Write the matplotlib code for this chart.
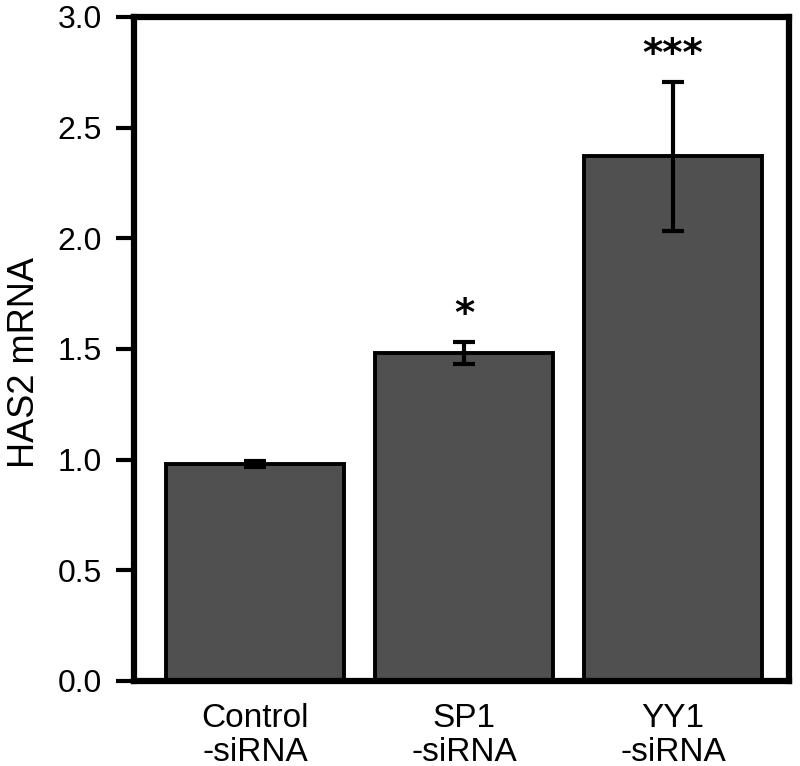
import matplotlib

matplotlib.use("Agg")

import matplotlib.pyplot as plt

groups      = ["Control\n-siRNA", "SP1\n-siRNA", "YY1\n-siRNA"]
means       = [0.98, 1.48, 2.37]
errors      = [0.015, 0.05, 0.335]
stars       = ["", "*", "***"]
y_ticks     = [0.0, 0.5, 1.0, 1.5, 2.0, 2.5, 3.0]

plt.rcParams["font.family"] = ["Liberation Sans", "DejaVu Sans"]

figure = plt.figure(figsize=(8.0, 7.66), dpi=100)
axis   = figure.add_axes([134 / 800, 1 - 681 / 766, (789 - 134) / 800, (681 - 17) / 766])

positions = range(len(groups))
axis.bar(positions, means, width=0.85, color="#505050", edgecolor="black", linewidth=2.8, zorder=2)
axis.errorbar(positions, means, yerr=errors, fmt="none", ecolor="black", elinewidth=3.0,
              capsize=8, capthick=3.0, zorder=3)

for position, mean, error, label in zip(positions, means, errors, stars):
    if label:
        axis.text(position, mean + error + 0.075, label, ha="center", va="baseline",
                  fontsize=28, fontweight="bold", family="DejaVu Sans")

axis.set_xlim(-0.58, 2.555)
axis.set_ylim(0, 3.0)
axis.set_xticks(list(positions))
axis.set_xticklabels(groups, fontsize=24, linespacing=1.1)
axis.set_yticks(y_ticks)
axis.set_yticklabels([f"{tick:.1f}" for tick in y_ticks], fontsize=23)
axis.tick_params(axis="x", length=0, pad=16)
axis.tick_params(axis="y", direction="out", length=13, width=3.0, pad=10)
axis.set_ylabel("HAS2 mRNA", fontsize=26)
axis.yaxis.set_label_coords(-0.14, 0.48)

for spine in axis.spines.values():
    spine.set_linewidth(4.5)

figure.savefig("out.png", dpi=100)
